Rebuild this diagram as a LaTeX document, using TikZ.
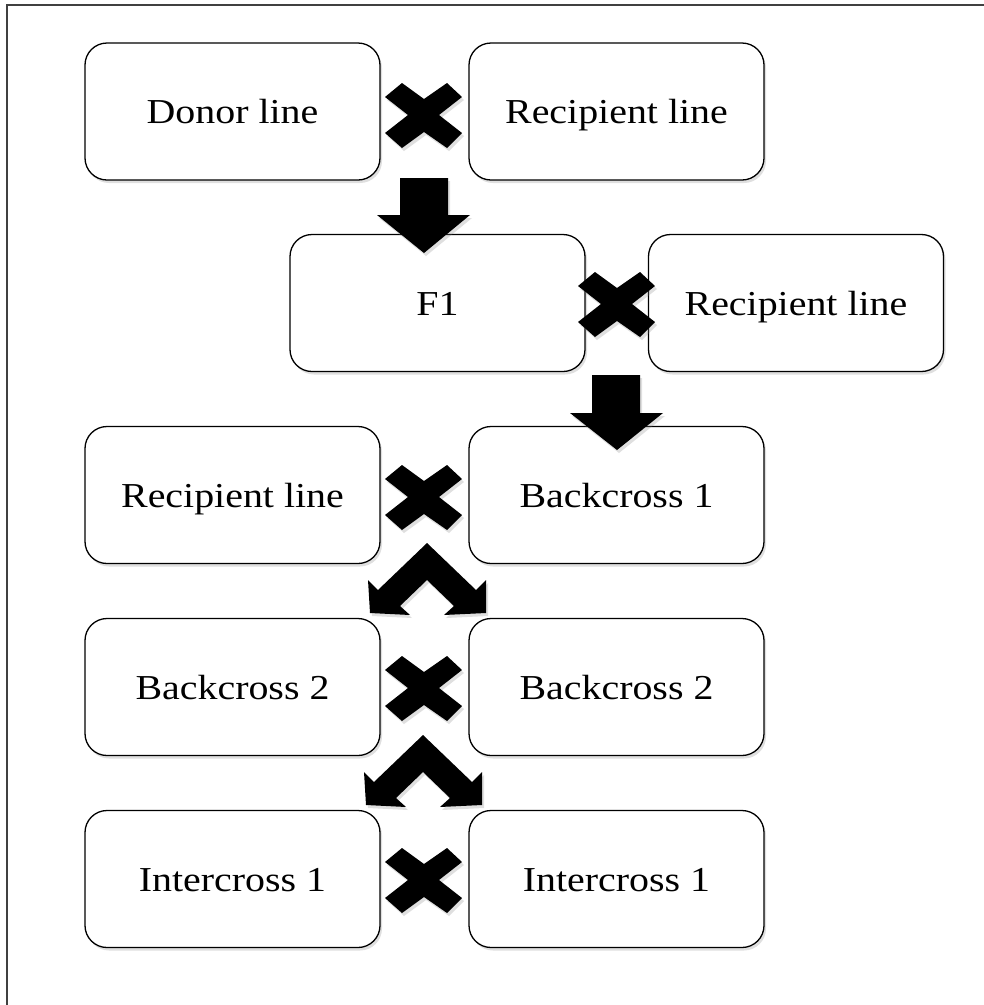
\documentclass[tikz,border=0pt]{standalone}
\usepackage{fontspec}
\setmainfont{Liberation Serif}[FakeStretch=1.14]
\usetikzlibrary{shadows}
\begin{document}
\begin{tikzpicture}[x=1pt,y=-1pt,
  stagebox/.style={draw=black, line width=1.3pt, rounded corners=22pt, fill=white,
    minimum width=295pt, minimum height=137pt, inner sep=0pt,
    font=\fontsize{35}{38}\selectfont, text height=33pt, text depth=8.4pt,
    drop shadow={opacity=0.25, shadow xshift=2pt, shadow yshift=-3pt}},
  blockarrow/.style={fill=black, draw=none,
    drop shadow={opacity=0.25, shadow xshift=2pt, shadow yshift=-3pt}},
  frameline/.style={draw=black!75, line width=1.8pt}
]
\useasboundingbox (0,0) rectangle (984,1005);
\fill[white] (0,0) rectangle (984,1005);
% frame
\draw[frameline] (7,1005) -- (7,5) -- (984,5);
% boxes
\node[stagebox] (donor) at (232.5,111.5) {Donor line};
\node[stagebox] (rec1) at (616.5,111.5) {Recipient line};
\node[stagebox] (f1) at (437.5,303) {F1};
\node[stagebox] (rec2) at (796,303) {Recipient line};
\node[stagebox] (rec3) at (232.5,495) {Recipient line};
\node[stagebox] (bc1) at (616.5,495) {Backcross 1};
\node[stagebox] (bc2a) at (232.5,687) {Backcross 2};
\node[stagebox] (bc2b) at (616.5,687) {Backcross 2};
\node[stagebox] (ic1a) at (232.5,879) {Intercross 1};
\node[stagebox] (ic1b) at (616.5,879) {Intercross 1};
% crosses
\foreach \cx/\cy in {424/115, 617/304, 424/497, 424/688, 424/880}{
  \fill[blockarrow] (\cx,\cy) ++(-22,-32) -- ++(22,16) -- ++(23,-16) -- ++(15,14)
    -- ++(-23,18) -- ++(23,18) -- ++(-15,15) -- ++(-23,-16) -- ++(-22,16)
    -- ++(-17,-15) -- ++(23,-18) -- ++(-23,-18) -- cycle;
}
% down arrows
\fill[blockarrow] (400,178) -- (448,178) -- (448,215) -- (470,215) -- (424,253)
  -- (377,215) -- (400,215) -- cycle;
\fill[blockarrow] (592,375) -- (640,375) -- (640,413) -- (663,413) -- (617,450)
  -- (570,413) -- (592,413) -- cycle;
% split (chevron) arrows
\foreach \dx/\dy in {0/0, -4/192}{
  \begin{scope}[shift={(\dx,\dy)}]
  \fill[blockarrow] (427,543) -- (378,590) -- (368,580) -- (370,613) -- (410,615)
    -- (400,606) -- (427,580) -- (454,606) -- (444,615) -- (486,613) -- (486,580)
    -- (476,590) -- cycle;
  \end{scope}
}
\end{tikzpicture}
\end{document}
